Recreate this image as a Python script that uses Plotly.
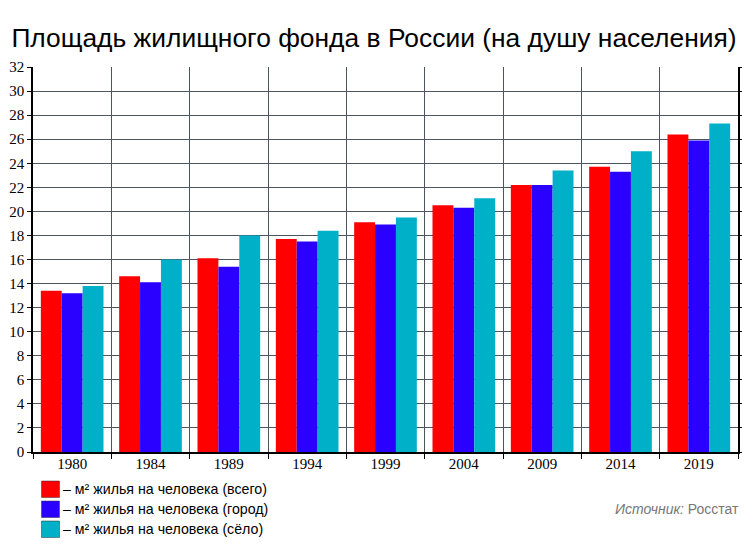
import plotly.graph_objects as go

# Data
years = ["1980", "1984", "1989", "1994", "1999", "2004", "2009", "2014", "2019"]
total = [13.4, 14.6, 16.1, 17.7, 19.1, 20.5, 22.2, 23.7, 26.4]
urban = [13.2, 14.1, 15.4, 17.5, 18.9, 20.3, 22.2, 23.3, 25.9]
rural = [13.8, 16.0, 18.0, 18.4, 19.5, 21.1, 23.4, 25.0, 27.3]

series_names = [
    "– м² жилья на человека (всего)",
    "– м² жилья на человека (город)",
    "– м² жилья на человека (сёло)",
]
colors = ["#ff0000", "#2a00ff", "#00afc8"]

# the page body has an 8px margin, so the figure is drawn 8px in and 8px down
OFF = 8
W, H = 750 - OFF, 551 - OFF
L, R, T, B = 33 - OFF, 12, 67 - OFF, 99
pw, ph = W - L - R, H - T - B


def px(x):
    # x in window pixels -> paper fraction
    return (x - OFF - L) / pw


def py(y):
    # y in window pixels -> paper fraction
    return (H - B - (y - OFF)) / ph


fig = go.Figure()
for name, vals, col in zip(series_names, [total, urban, rural], colors):
    fig.add_trace(go.Bar(x=years, y=vals, name=name, showlegend=False,
                         marker=dict(color=col, line=dict(width=0))))

# hand-made legend with larger colour squares, like the original
shapes, annotations = [], []
for i, (name, col) in enumerate(zip(series_names, colors)):
    top = 481 + i * 20
    shapes.append(dict(type="rect", xref="paper", yref="paper",
                       x0=px(41.5), x1=px(59.5), y0=py(top), y1=py(top + 16.5),
                       fillcolor=col, line=dict(color="#333333", width=0.5)))
    annotations.append(dict(text=name, xref="paper", yref="paper",
                            x=px(61), y=py(top + 8), xanchor="left", yanchor="middle",
                            showarrow=False,
                            font=dict(family="Liberation Sans, Arial, sans-serif",
                                      size=14.2, color="black")))

annotations.append(dict(text="<i>Источник:</i> Росстат", xref="paper", yref="paper",
                        x=px(741), y=py(509), xanchor="right", yanchor="middle",
                        showarrow=False,
                        font=dict(family="Liberation Sans, Arial, sans-serif", size=14,
                                  color="#777777")))

grid_col = "#4a5560"
serif = "Liberation Serif, Times New Roman, serif"

fig.update_layout(
    width=W, height=H,
    barmode="group", bargap=0.2, bargroupgap=0,
    plot_bgcolor="white", paper_bgcolor="white",
    margin=dict(l=L, r=R, t=T, b=B, autoexpand=False),
    title=dict(text="Площадь жилищного фонда в России (на душу населения)",
               x=(374 - OFF) / W, xanchor="center", y=1 - (38 - OFF) / H,
               yanchor="middle",
               font=dict(family="Liberation Sans, Arial, sans-serif", size=26.4,
                         color="black")),
    xaxis=dict(type="category", tickson="boundaries", showgrid=True, automargin=False,
               gridcolor=grid_col, gridwidth=1, ticks="outside", ticklen=5,
               tickcolor="black", showline=True, linecolor="black", linewidth=1.5,
               ticklabelstandoff=-3,
               tickfont=dict(family=serif, size=15, color="black")),
    yaxis=dict(range=[0, 32], dtick=2, showgrid=True, gridcolor=grid_col, gridwidth=1,
               automargin=False, ticks="outside", ticklen=4, tickcolor="black",
               showline=True, linecolor="black", linewidth=1.5, mirror="ticks",
               zeroline=False, tickfont=dict(family=serif, size=15, color="black")),
    shapes=shapes,
    annotations=annotations,
)

fig.write_html("out.html")
